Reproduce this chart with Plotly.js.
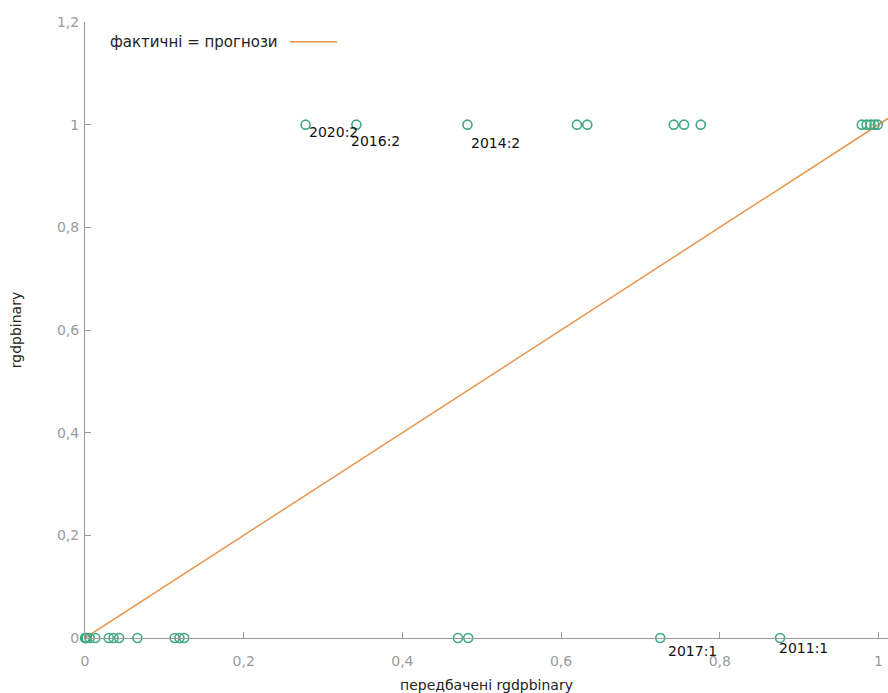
<!DOCTYPE html>
<html>
<head>
<meta charset="utf-8">
<script src="https://cdn.plot.ly/plotly-3.0.1.min.js"></script>
<style>html,body{margin:0;padding:0;background:#fff;}#chart{width:888px;height:693px;}</style>
</head>
<body>
<div id="chart"></div>
<script>
// Observations: predicted probability vs actual rgdpbinary
const predicted = [0.278, 0.342, 0.482, 0.620, 0.633, 0.742, 0.755, 0.776, 0.979, 0.985, 0.990, 0.995, 0.999,
                   0.000, 0.001, 0.002, 0.006, 0.013, 0.030, 0.036, 0.043, 0.066, 0.113, 0.119, 0.125, 0.470, 0.483, 0.725, 0.876];
const actual    = [1, 1, 1, 1, 1, 1, 1, 1, 1, 1, 1, 1, 1,
                   0, 0, 0, 0, 0, 0, 0, 0, 0, 0, 0, 0, 0, 0, 0, 0];
const obsLabels = ["2020:2", "2016:2", "2014:2", "", "", "", "", "", "", "", "", "", "",
                   "", "", "", "", "", "", "", "", "", "", "", "", "", "", "2017:1", "2011:1"];
const lineX = [0, 1.2];
const lineY = [0, 1.2];
const tickVals = [0, 0.2, 0.4, 0.6, 0.8, 1, 1.2];
const tickText = ["0", "0,2", "0,4", "0,6", "0,8", "1", "1,2"];
const legendText = "фактичні = прогнози";
const xTitle = "передбачені rgdpbinary";
const yTitle = "rgdpbinary";

// label offsets (styling only)
const labelShiftX = [1, -7, 2, 0,0,0,0,0,0,0,0,0,0, 0,0,0,0,0,0,0,0,0,0,0,0,0,0, 6, -3];
const labelShiftY = [-7, -16, -18, 0,0,0,0,0,0,0,0,0,0, 0,0,0,0,0,0,0,0,0,0,0,0,0,0, -13, -10];

const green = "#3fa881";
const orange = "#e8954c";
const axisGray = "#9a9a9a";

const annotations = [];
obsLabels.forEach((t, i) => {
  if (!t) return;
  annotations.push({
    x: predicted[i], y: actual[i], xref: "x", yref: "y",
    text: t, showarrow: false, xanchor: "left", yanchor: "middle",
    xshift: labelShiftX[i], yshift: labelShiftY[i],
    font: {family: "DejaVu Sans", size: 14, color: "#111"}
  });
});
annotations.push({
  xref: "paper", yref: "paper", x: 0.029, y: 0.968, xanchor: "left", yanchor: "middle",
  text: legendText, showarrow: false,
  font: {family: "DejaVu Sans", size: 15, color: "#222"}
});

const traces = [
  {
    x: lineX, y: lineY, mode: "lines", type: "scatter",
    line: {color: orange, width: 1.5}, hoverinfo: "skip", name: legendText
  },
  {
    x: predicted, y: actual, mode: "markers", type: "scatter", cliponaxis: false,
    marker: {symbol: "circle-open", size: 9, color: green, line: {width: 1.6, color: green}},
    name: "rgdpbinary"
  }
];

const layout = {
  width: 888, height: 693,
  margin: {l: 85, r: 0, t: 22, b: 55},
  paper_bgcolor: "#fff", plot_bgcolor: "#fff",
  showlegend: false,
  xaxis: {
    range: [0, 1.012], tickvals: tickVals, ticktext: tickText,
    showgrid: false, zeroline: false, showline: true, linecolor: axisGray, linewidth: 1,
    ticks: "inside", ticklen: 6, tickcolor: axisGray, ticklabelstandoff: 10,
    tickfont: {family: "DejaVu Sans", size: 14, color: "#9a9a9a"},
    title: {text: xTitle, standoff: 12, font: {family: "DejaVu Sans", size: 14, color: "#222"}}
  },
  yaxis: {
    range: [0, 1.2], tickvals: tickVals, ticktext: tickText,
    showgrid: false, zeroline: false, showline: true, linecolor: axisGray, linewidth: 1,
    ticks: "inside", ticklen: 6, tickcolor: axisGray, ticklabelstandoff: 2,
    tickfont: {family: "DejaVu Sans", size: 14, color: "#9a9a9a"},
    title: {text: yTitle, standoff: 32, font: {family: "DejaVu Sans", size: 14, color: "#222"}}
  },
  annotations: annotations,
  shapes: [{
    type: "line", xref: "paper", yref: "paper", x0: 0.255, x1: 0.314, y0: 0.968, y1: 0.968,
    line: {color: orange, width: 1.5}
  }]
};

Plotly.newPlot("chart", traces, layout, {displayModeBar: false, staticPlot: true});
</script>
</body>
</html>
